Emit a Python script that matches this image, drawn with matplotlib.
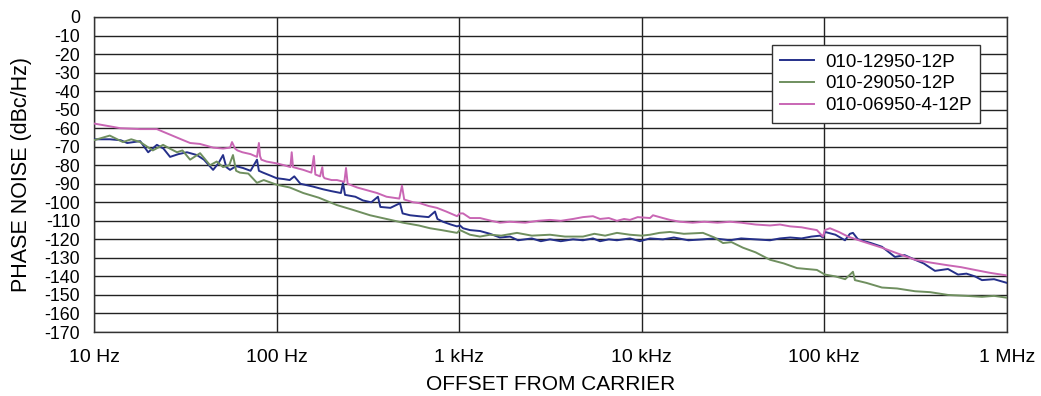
import numpy as np
import matplotlib
matplotlib.use('Agg')
import matplotlib.pyplot as plt
from matplotlib.ticker import FixedLocator, NullLocator

# puntos: (frecuencia Hz, dBc/Hz)
blue_pts = [(10, -66), (12.2, -66), (14, -66.5), (15.2, -68), (17.9, -67), (19.8, -73), (22.1, -69),
            (24, -71), (26.1, -75.5), (29, -74), (32.3, -73), (36.6, -74.5), (40, -77), (44.9, -82.5),
            (48, -79), (50.9, -74.5), (53, -81), (55.6, -82.5), (60, -80.5), (65.5, -81.5), (72, -83),
            (78.1, -77), (80, -83), (84.3, -84), (92, -85.5), (100, -87), (110, -87.5), (118, -88),
            (125, -86), (135, -90), (158, -91.5), (180, -93), (200, -94), (225, -95), (231, -89.5),
            (237, -96), (270, -97), (297, -99), (330, -100), (359, -97), (370, -102.5), (420, -103),
            (474, -100.5), (490, -106), (538, -107), (600, -107.5), (680, -108), (737, -105), (760, -109),
            (815, -110.5), (900, -112), (973, -113), (1010, -112.5), (1050, -114), (1146, -115),
            (1300, -115.5), (1475, -117), (1672, -119), (1900, -118.5), (2100, -120.5), (2500, -119.5),
            (2800, -121), (3142, -120), (3600, -121), (4200, -120), (4764, -120.5), (5404, -119.5),
            (5907, -121), (6600, -120), (7311, -120.5), (8614, -119.5), (9775, -121), (11090, -119.5),
            (13060, -120), (15000, -119), (18000, -120.5), (21620, -120), (25000, -119.5), (30410, -120.5),
            (35000, -119.5), (42000, -120), (50350, -120.5), (57120, -119.5), (65000, -119), (75000, -119.5),
            (85000, -118.5), (95000, -118), (98200, -119), (100700, -116), (115000, -117.5), (129700, -120.5),
            (138000, -117), (143400, -116.5), (152800, -120), (180000, -122), (206700, -124), (243500, -129.5),
            (275000, -128.5), (313500, -131), (350000, -133), (403400, -137), (475300, -136), (539300, -139),
            (600000, -138.5), (668300, -140), (729900, -142), (850000, -141.5), (1e6, -143.5)]

green_pts = [(10, -66.5), (12.2, -64), (14.4, -67.5), (16, -66), (17.9, -67.5), (21, -72), (23.9, -69),
             (26, -71), (28.5, -73), (30.5, -72), (33.6, -77), (38.1, -73.5), (43.2, -80), (47, -78),
             (50.9, -81), (55, -80), (57.7, -74.5), (60, -83), (63, -84), (70, -84.5), (78.1, -89.5),
             (85, -88), (100, -90.5), (118, -92), (140, -95), (170, -97.5), (214, -101.5), (260, -104),
             (325, -107), (400, -109), (492, -111), (600, -112.5), (692, -114), (800, -115), (973, -116.5),
             (1010, -115), (1146, -117.5), (1300, -118.5), (1475, -117.5), (1700, -118), (2073, -116.5),
             (2500, -118), (3142, -117.5), (3800, -118.5), (4764, -118.5), (5500, -117), (6300, -118),
             (7311, -116.5), (8614, -117.5), (10000, -118), (11090, -117.5), (12500, -116.5), (14270, -116),
             (17000, -117), (21620, -116.5), (25000, -119), (27850, -122), (31000, -121.5), (35820, -124.5),
             (42000, -127), (50350, -131), (60000, -133), (70780, -135.5), (80000, -136), (91000, -136.5),
             (100700, -139), (115000, -140), (130000, -141.5), (143400, -137.5), (147000, -142),
             (170000, -143.5), (206700, -146), (250000, -146.5), (313500, -148), (380000, -148.5),
             (475300, -150), (600000, -150.5), (729900, -151), (850000, -150.5), (1e6, -151.5)]

pink_pts = [(10, -57.5), (12.2, -59), (13.9, -60), (17.9, -60.5), (22.1, -60.5), (24, -62), (26.1, -63.5),
            (30, -66), (33.6, -68), (38, -68.5), (45, -70.5), (50.9, -71), (55.6, -70.5), (57, -67.5),
            (59.2, -71), (61, -72), (65, -73), (72, -74), (78.1, -75.5), (80, -68), (81.1, -75), (82.5, -77),
            (88, -78), (100, -79), (110, -80), (119, -81), (121, -73), (123, -81), (140, -82.5), (155, -84),
            (160, -75), (163, -85), (173, -86), (178, -81), (180, -86), (183, -87), (200, -88), (214, -88),
            (235, -89), (240, -81.5), (245, -90), (260, -91), (276, -92), (300, -93), (355, -95), (400, -97),
            (470, -98), (486, -91), (500, -98.5), (560, -100), (610, -100.5), (680, -102), (755, -103),
            (850, -105), (973, -107.5), (1010, -106), (1050, -106), (1146, -108.5), (1300, -108.5),
            (1500, -110), (1672, -111), (1897, -110.5), (2300, -111), (2700, -110), (3142, -109.5),
            (3600, -110), (4200, -109), (4764, -108), (5404, -107.5), (5907, -109), (6600, -108.5),
            (7311, -110), (8000, -109), (8614, -109.5), (9500, -108), (11090, -108.5), (11520, -107),
            (13060, -108.5), (14270, -109.5), (16180, -110.5), (19000, -111), (22000, -110.5), (26000, -111),
            (30410, -110.5), (35000, -111), (42000, -112), (50350, -112.5), (57120, -112), (65000, -113),
            (75000, -113.5), (85000, -114.5), (91000, -115), (95000, -117), (98200, -118.5), (100700, -115),
            (107300, -114), (120000, -116), (134700, -118.5), (160000, -121), (206700, -124.5),
            (250000, -127.5), (313500, -131), (380000, -132.5), (475300, -134), (560000, -135),
            (668300, -136.5), (800000, -138), (1e6, -139.5)]

series_names = ['010-12950-12P', '010-29050-12P', '010-06950-4-12P']
series_colors = ['#25308a', '#6f8f5f', '#c966b4']

xticks = [10, 100, 1e3, 1e4, 1e5, 1e6]
xtick_labels = ['10 Hz', '100 Hz', '1 kHz', '10 kHz', '100 kHz', '1 MHz']
yticks = list(range(-170, 1, 10))

plt.rcParams['font.family'] = ['Liberation Sans', 'DejaVu Sans']

fig = plt.figure(figsize=(10.41, 3.96), dpi=100)
ax = fig.add_axes([0.0903, 0.1616, 0.877, 0.7955])

for pts, name, col in zip([blue_pts, green_pts, pink_pts], series_names, series_colors):
    f, v = zip(*pts)
    ax.plot(f, v, color=col, lw=1.4, label=name, zorder=3)

ax.set_xscale('log')
ax.set_xlim(10, 1e6)
ax.set_ylim(-170, 0)
ax.xaxis.set_major_locator(FixedLocator(xticks))
ax.xaxis.set_minor_locator(NullLocator())
ax.set_xticklabels(xtick_labels)
ax.set_yticks(yticks)
ax.set_yticklabels([str(t) for t in yticks])
ax.tick_params(axis='both', length=0)
ax.tick_params(axis='x', pad=12, labelsize=14)
ax.tick_params(axis='y', pad=10, labelsize=12.8)
ax.grid(True, which='major', color='#222222', lw=1.0, zorder=1)
for s in ax.spines.values():
    s.set_color('#333333')
    s.set_linewidth(1.0)

ax.set_xlabel('OFFSET FROM CARRIER', fontsize=15, labelpad=7)
ax.set_ylabel('PHASE NOISE (dBc/Hz)', fontsize=15.5, labelpad=9)

leg = ax.legend(loc='upper right', bbox_to_anchor=(0.9705, 0.911), borderaxespad=0,
                fancybox=False, framealpha=1, edgecolor='#333333', fontsize=13.5,
                handlelength=1.8, handletextpad=0.6, borderpad=0.45, labelspacing=0.25)
leg.get_frame().set_linewidth(1.0)

fig.savefig('out.png', dpi=100)
